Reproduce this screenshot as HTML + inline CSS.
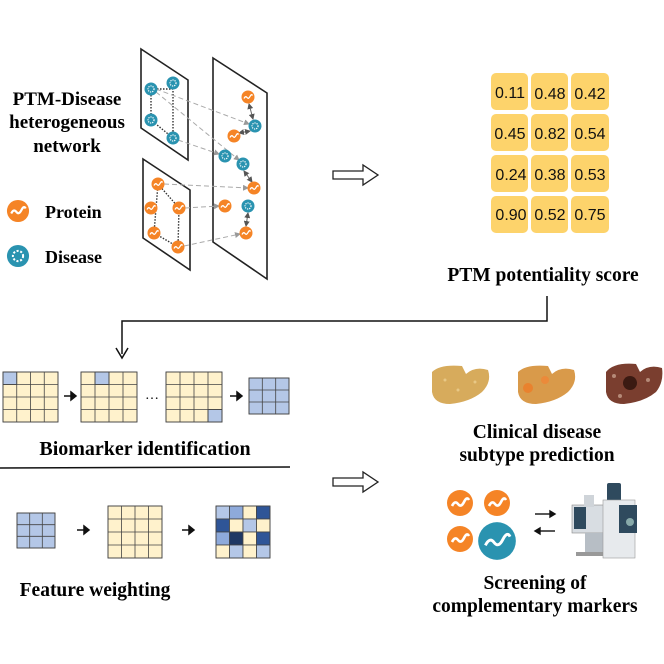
<!DOCTYPE html>
<html><head><meta charset="utf-8"><style>
html,body{margin:0;padding:0;background:#fff}
svg{display:block}
text{font-family:"Liberation Serif",serif;font-weight:bold;fill:#000}
.n{font-family:"Liberation Sans",sans-serif;font-weight:normal;font-size:16px;fill:#111}
</style></head><body>
<svg width="664" height="664" viewBox="0 0 664 664" xmlns="http://www.w3.org/2000/svg">
<defs>
<g id="P"><circle r="6.5" fill="#f58426"/><path d="M-4 1.5 q1.5 -3 3 -1 t3 -1 t2.5 -1" stroke="#fff" stroke-width="1.3" fill="none"/></g>
<g id="D"><circle r="6.5" fill="#2a93b0"/><circle r="3" fill="none" stroke="#fff" stroke-width="1.2" stroke-dasharray="1.2 1"/></g>
<marker id="ga" markerWidth="6" markerHeight="6" refX="5" refY="3" orient="auto"><path d="M0 0L6 3L0 6z" fill="#999"/></marker>
<marker id="ka" markerWidth="6" markerHeight="6" refX="5" refY="3" orient="auto-start-reverse"><path d="M0 0L6 3L0 6z" fill="#555"/></marker>
</defs>

<text x="67" y="105" font-size="19" text-anchor="middle">PTM-Disease</text>
<text x="67" y="128" font-size="19" text-anchor="middle">heterogeneous</text>
<text x="67" y="152" font-size="19" text-anchor="middle">network</text>
<g transform="translate(18,211) scale(1.7)"><use href="#P"/></g>
<text x="45" y="218" font-size="18">Protein</text>
<g transform="translate(18,256) scale(1.7)"><use href="#D"/></g>
<text x="45" y="263" font-size="18">Disease</text>

<polygon points="141,49 188,80 188,160 141,128" fill="none" stroke="#222" stroke-width="1.6"/>
<polygon points="143,159 190,190 190,270 143,238" fill="none" stroke="#222" stroke-width="1.6"/>
<polygon points="213,58 267,93 267,279 213,242" fill="none" stroke="#222" stroke-width="1.6"/>

<g stroke="#333" stroke-width="1.4" stroke-dasharray="1.5 1.5" fill="none">
<path d="M151,89 L173,89 L173,138 M151,89 L151,120 L173,138"/>
<path d="M158,184 L179,208 L178,247 L154,233 L158,184"/>
</g>
<g stroke="#aaa" stroke-width="1" stroke-dasharray="5 3" fill="none" marker-end="url(#ga)">
<line x1="156" y1="89" x2="249" y2="124"/>
<line x1="156" y1="92" x2="239" y2="160"/>
<line x1="178" y1="140" x2="219" y2="154"/>
<line x1="164" y1="184" x2="248" y2="188"/>
<line x1="185" y1="208" x2="219" y2="206"/>
<line x1="184" y1="246" x2="240" y2="234"/>
</g>
<g stroke="#666" stroke-width="1" fill="none" marker-end="url(#ka)" marker-start="url(#ka)">
<line x1="249" y1="104" x2="253" y2="119"/>
<line x1="250" y1="131" x2="239" y2="133"/>
<line x1="244" y1="171" x2="252" y2="182"/>
<line x1="248" y1="213" x2="246" y2="226"/>
</g>
<use href="#D" x="151" y="89"/><use href="#D" x="173" y="83"/><use href="#D" x="151" y="120"/><use href="#D" x="173" y="138"/>
<use href="#P" x="158" y="184"/><use href="#P" x="151" y="208"/><use href="#P" x="179" y="208"/><use href="#P" x="154" y="233"/><use href="#P" x="178" y="247"/>
<use href="#P" x="248" y="97"/><use href="#D" x="255" y="126"/><use href="#P" x="234" y="136"/><use href="#D" x="225" y="156"/><use href="#D" x="243" y="164"/><use href="#P" x="254" y="188"/><use href="#P" x="225" y="206"/><use href="#D" x="248" y="206"/><use href="#P" x="246" y="233"/>

<path d="M333,171 H363 V165 L378,175 L363,185 V179 H333 Z" fill="#fff" stroke="#222" stroke-width="1.3"/>
<path d="M333,478 H363 V472 L378,482 L363,492 V486 H333 Z" fill="#fff" stroke="#222" stroke-width="1.3"/>

<g fill="#fdd36b">
<rect x="491" y="73" width="37" height="37" rx="5"/><rect x="531" y="73" width="37" height="37" rx="5"/><rect x="571" y="73" width="38" height="37" rx="5"/>
<rect x="491" y="114" width="37" height="37" rx="5"/><rect x="531" y="114" width="37" height="37" rx="5"/><rect x="571" y="114" width="38" height="37" rx="5"/>
<rect x="491" y="155" width="37" height="37" rx="5"/><rect x="531" y="155" width="37" height="37" rx="5"/><rect x="571" y="155" width="38" height="37" rx="5"/>
<rect x="491" y="196" width="37" height="37" rx="5"/><rect x="531" y="196" width="37" height="37" rx="5"/><rect x="571" y="196" width="38" height="37" rx="5"/>
</g>
<g text-anchor="middle">
<text class="n" x="510" y="98">0.11</text><text class="n" x="550" y="99">0.48</text><text class="n" x="590" y="99">0.42</text>
<text class="n" x="510" y="139">0.45</text><text class="n" x="550" y="139">0.82</text><text class="n" x="590" y="139">0.54</text>
<text class="n" x="511" y="180">0.24</text><text class="n" x="550" y="180">0.38</text><text class="n" x="590" y="180">0.53</text>
<text class="n" x="511" y="220">0.90</text><text class="n" x="550" y="220">0.52</text><text class="n" x="590" y="220">0.75</text>
</g>
<text x="543" y="281" font-size="19.5" text-anchor="middle">PTM potentiality score</text>

<path d="M547,296 V321 H122 V354" fill="none" stroke="#111" stroke-width="1.5"/>
<path d="M116,348 L122,358 L128,348" fill="none" stroke="#111" stroke-width="1.5"/>

<g stroke="#444" stroke-width="0.8">
<g transform="translate(3,372)">
<rect width="55" height="50" fill="#fff2cc"/><rect width="13.75" height="12.5" fill="#b4c7e7"/>
<path d="M13.75 0V50M27.5 0V50M41.25 0V50M0 12.5H55M0 25H55M0 37.5H55" fill="none"/><rect width="55" height="50" fill="none"/>
</g>
<g transform="translate(81,372)">
<rect width="56" height="50" fill="#fff2cc"/><rect x="14" width="14" height="12.5" fill="#b4c7e7"/>
<path d="M14 0V50M28 0V50M42 0V50M0 12.5H56M0 25H56M0 37.5H56" fill="none"/><rect width="56" height="50" fill="none"/>
</g>
<g transform="translate(166,372)">
<rect width="56" height="50" fill="#fff2cc"/><rect x="42" y="37.5" width="14" height="12.5" fill="#b4c7e7"/>
<path d="M14 0V50M28 0V50M42 0V50M0 12.5H56M0 25H56M0 37.5H56" fill="none"/><rect width="56" height="50" fill="none"/>
</g>
<g transform="translate(249,378)">
<rect width="40" height="36" fill="#b4c7e7"/>
<path d="M13.3 0V36M26.7 0V36M0 12H40M0 24H40" fill="none"/><rect width="40" height="36" fill="none"/>
</g>
<g transform="translate(17,513)">
<rect width="38" height="35" fill="#b4c7e7"/>
<path d="M12.7 0V35M25.3 0V35M0 11.7H38M0 23.3H38" fill="none"/><rect width="38" height="35" fill="none"/>
</g>
<g transform="translate(108,506)">
<rect width="54" height="52" fill="#fff2cc"/>
<path d="M13.5 0V52M27 0V52M40.5 0V52M0 13H54M0 26H54M0 39H54" fill="none"/><rect width="54" height="52" fill="none"/>
</g>
<g transform="translate(216,506)">
<rect x="0" y="0" width="13.5" height="13" fill="#b4c7e7"/><rect x="13.5" y="0" width="13.5" height="13" fill="#8eaadb"/><rect x="27" y="0" width="13.5" height="13" fill="#fff2cc"/><rect x="40.5" y="0" width="13.5" height="13" fill="#2f5597"/>
<rect x="0" y="13" width="13.5" height="13" fill="#2f5597"/><rect x="13.5" y="13" width="13.5" height="13" fill="#fff2cc"/><rect x="27" y="13" width="13.5" height="13" fill="#b4c7e7"/><rect x="40.5" y="13" width="13.5" height="13" fill="#fff2cc"/>
<rect x="0" y="26" width="13.5" height="13" fill="#8eaadb"/><rect x="13.5" y="26" width="13.5" height="13" fill="#1f3864"/><rect x="27" y="26" width="13.5" height="13" fill="#fff2cc"/><rect x="40.5" y="26" width="13.5" height="13" fill="#2f5597"/>
<rect x="0" y="39" width="13.5" height="13" fill="#fff2cc"/><rect x="13.5" y="39" width="13.5" height="13" fill="#b4c7e7"/><rect x="27" y="39" width="13.5" height="13" fill="#fff2cc"/><rect x="40.5" y="39" width="13.5" height="13" fill="#b4c7e7"/>
<rect width="54" height="52" fill="none"/>
</g>
</g>
<g fill="#111" stroke="#111" stroke-width="1.5">
<line x1="64" y1="396" x2="71" y2="396"/><path d="M71,392 L76,396 L71,400Z"/>
<line x1="230" y1="396" x2="237" y2="396"/><path d="M237,392 L242,396 L237,400Z"/>
<line x1="77" y1="530" x2="84" y2="530"/><path d="M84,526 L89,530 L84,534Z"/>
<line x1="182" y1="530" x2="189" y2="530"/><path d="M189,526 L194,530 L189,534Z"/>
</g>
<text x="152" y="399" font-size="14" text-anchor="middle" style="font-weight:normal">…</text>
<text x="145" y="455" font-size="20" text-anchor="middle">Biomarker identification</text>
<line x1="0" y1="468" x2="290" y2="467" stroke="#111" stroke-width="1.5"/>
<text x="95" y="596" font-size="19.5" text-anchor="middle">Feature weighting</text>

<g>
<path d="M432,372 Q440,364 462,366 L466,374 Q475,366 488,370 Q492,382 482,392 Q470,402 450,404 Q434,404 432,392 Z" fill="#d7ab5c"/>
<circle cx="445" cy="380" r="1.5" fill="#e8c886"/><circle cx="458" cy="390" r="1.5" fill="#e8c886"/><circle cx="475" cy="382" r="1.5" fill="#e8c886"/>
<path d="M518,372 Q526,364 548,366 L552,374 Q561,366 574,370 Q578,382 568,392 Q556,402 536,404 Q520,404 518,392 Z" fill="#d99a4a"/>
<circle cx="528" cy="388" r="5" fill="#e9822e"/><circle cx="545" cy="380" r="4" fill="#eb8a3a"/>
<path d="M606,372 Q614,362 636,364 L640,372 Q649,364 662,368 Q664,382 656,392 Q644,402 624,404 Q608,404 606,392 Z" fill="#7a3e2f"/>
<circle cx="630" cy="383" r="7" fill="#3b1a12"/>
<circle cx="614" cy="376" r="2" fill="#b58a78"/><circle cx="648" cy="380" r="2" fill="#b58a78"/><circle cx="620" cy="396" r="2" fill="#b58a78"/>
</g>
<text x="537" y="438" font-size="19.5" text-anchor="middle">Clinical disease</text>
<text x="537" y="461" font-size="19.5" text-anchor="middle">subtype prediction</text>

<g transform="translate(460,503) scale(2)"><use href="#P"/></g>
<g transform="translate(497,503) scale(2)"><use href="#P"/></g>
<g transform="translate(460,539) scale(2)"><use href="#P"/></g>
<g transform="translate(497,541) scale(2.9)"><circle r="6.5" fill="#2a93b0"/><path d="M-4 1.5 q1.5 -3 3 -1 t3 -1 t2.5 -1" stroke="#fff" stroke-width="1" fill="none"/></g>
<g stroke="#111" stroke-width="1.4" fill="#111">
<line x1="535" y1="514" x2="550" y2="514"/><path d="M550,511 L555,514 L550,517Z"/>
<line x1="540" y1="531" x2="555" y2="531"/><path d="M540,528 L535,531 L540,534Z"/>
</g>
<g>
<rect x="572" y="505" width="40" height="28" fill="#d8dde2" stroke="#888" stroke-width="0.6"/>
<rect x="574" y="507" width="12" height="22" fill="#2f4a5e"/>
<rect x="584" y="495" width="10" height="12" fill="#cfd4d9"/>
<rect x="585" y="533" width="18" height="20" fill="#b7bec5"/>
<rect x="576" y="552" width="28" height="4" fill="#999"/>
<rect x="607" y="483" width="14" height="20" fill="#2f4a5e" rx="2"/>
<rect x="603" y="500" width="32" height="58" fill="#e7eaed" stroke="#999" stroke-width="0.6"/>
<rect x="619" y="505" width="18" height="28" fill="#2f4a5e"/>
<circle cx="630" cy="522" r="4" fill="#8aa"/>
</g>
<text x="535" y="589" font-size="19.5" text-anchor="middle">Screening of</text>
<text x="535" y="612" font-size="19.5" text-anchor="middle">complementary markers</text>
</svg>
</body></html>
